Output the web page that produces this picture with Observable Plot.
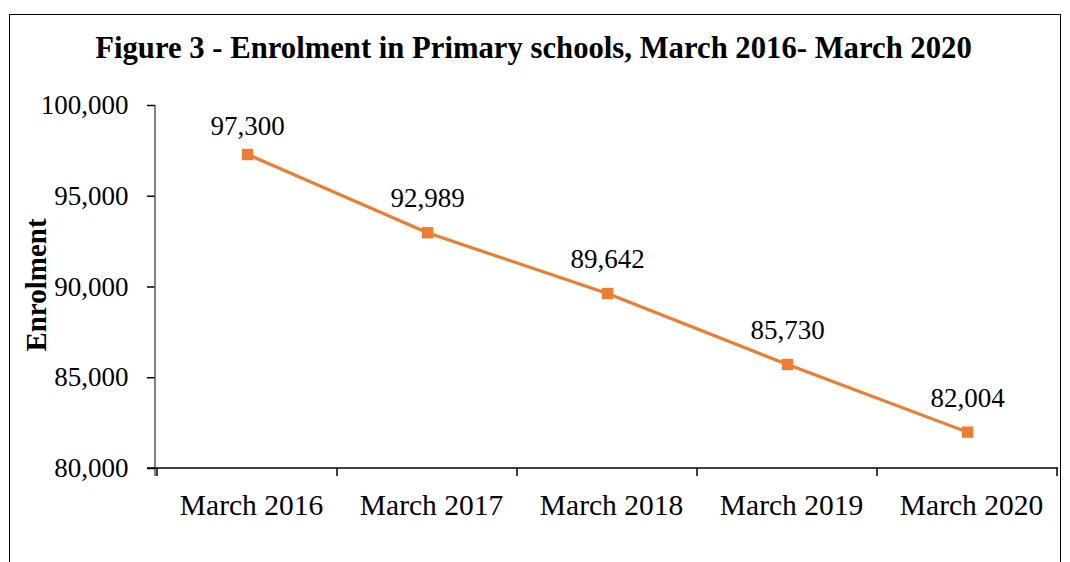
<!DOCTYPE html>
<html>
<head>
<meta charset="utf-8">
<script src="https://cdn.jsdelivr.net/npm/d3@7"></script>
<script src="https://cdn.jsdelivr.net/npm/@observablehq/plot@0.6"></script>
<style>
  html, body { margin: 0; padding: 0; background: #fff; }
  #wrap { position: relative; width: 1070px; height: 562px; overflow: hidden; font-family: "Liberation Serif", "Times New Roman", serif; }
  #frame { position: absolute; left: 9px; top: 14px; width: 1052px; height: 600px; border: 1px solid #000; box-sizing: border-box; }
  #title { position: absolute; left: 0; width: 1067px; top: 30px; text-align: center; font-weight: bold; font-size: 30.7px; line-height: 36px; color: #000; white-space: nowrap; }
  #ylabel { position: absolute; left: 36px; top: 285px; transform: translate(-50%, -50%) rotate(-90deg); font-weight: bold; font-size: 29px; color: #000; white-space: nowrap; }
  #chart { position: absolute; left: 0; top: 80px; }
</style>
</head>
<body>
<div id="wrap">
  <div id="frame"></div>
  <div id="title">Figure 3 - Enrolment in Primary schools, March 2016- March 2020</div>
  <div id="ylabel">Enrolment</div>
  <div id="chart"></div>
</div>
<script>
const categories = ["March 2016", "March 2017", "March 2018", "March 2019", "March 2020"];
const enrolment = [97300, 92989, 89642, 85730, 82004];
const yTicks = [80000, 85000, 90000, 95000, 100000];

const data = categories.map((c, i) => ({category: c, value: enrolment[i]}));
const fmt = d3.format(",");
const color = "#ED7D31";

// custom mark: axis lines and category boundary ticks, using Plot's scales
function axisLines(index, scales, values, dimensions) {
  const x = scales.x, y = scales.y;
  const bw = typeof x.bandwidth === "function" ? x.bandwidth() : (dimensions.width - dimensions.marginLeft - dimensions.marginRight) / categories.length;
  const y0 = y(yTicks[0]);
  const y1 = y(yTicks[yTicks.length - 1]);
  const left = dimensions.marginLeft;
  const right = dimensions.width - dimensions.marginRight;
  const g = d3.create("svg:g");
  g.append("line").attr("x1", left).attr("x2", left).attr("y1", y1).attr("y2", y0 + 8)
    .attr("stroke", "#595959").attr("stroke-width", 1.5);
  g.append("line").attr("x1", left - 8).attr("x2", right).attr("y1", y0).attr("y2", y0)
    .attr("stroke", "#000").attr("stroke-width", 1.5);
  const bounds = categories.map(c => x(c)).concat([x(categories[categories.length - 1]) + bw]);
  bounds.forEach(bx => {
    g.append("line").attr("x1", bx).attr("x2", bx).attr("y1", y0).attr("y2", y0 + 8)
      .attr("stroke", "#000").attr("stroke-width", 1.5);
  });
  return g.node();
}

const chart = Plot.plot({
  width: 1070,
  height: 482,
  marginLeft: 155,
  marginRight: 12,
  marginTop: 25,
  marginBottom: 94,
  style: { fontFamily: "'Liberation Serif', 'Times New Roman', serif", background: "transparent", color: "#000" },
  x: { type: "band", domain: categories, padding: 0 },
  y: { domain: [80000, 100000] },
  marks: [
    Plot.axisY({ ticks: yTicks, tickFormat: fmt, tickSize: 8, tickPadding: 19, fontSize: 27, label: null, stroke: "#000", strokeWidth: 1.5 }),
    Plot.axisX({ tickSize: 0, tickPadding: 26, fontSize: 29.5, dx: 4, label: null }),
    axisLines,
    Plot.line(data, { x: "category", y: "value", stroke: color, strokeWidth: 3.2 }),
    Plot.dot(data, { x: "category", y: "value", symbol: "square", r: 6.4, fill: color, stroke: "none" }),
    Plot.text(data.slice(0, 1), { x: "category", y: "value", text: d => fmt(d.value), dy: -28, fontSize: 27, fill: "#000" }),
    Plot.text(data.slice(1), { x: "category", y: "value", text: d => fmt(d.value), dy: -34, fontSize: 27, fill: "#000" })
  ]
});
document.getElementById("chart").appendChild(chart);
</script>
</body>
</html>
